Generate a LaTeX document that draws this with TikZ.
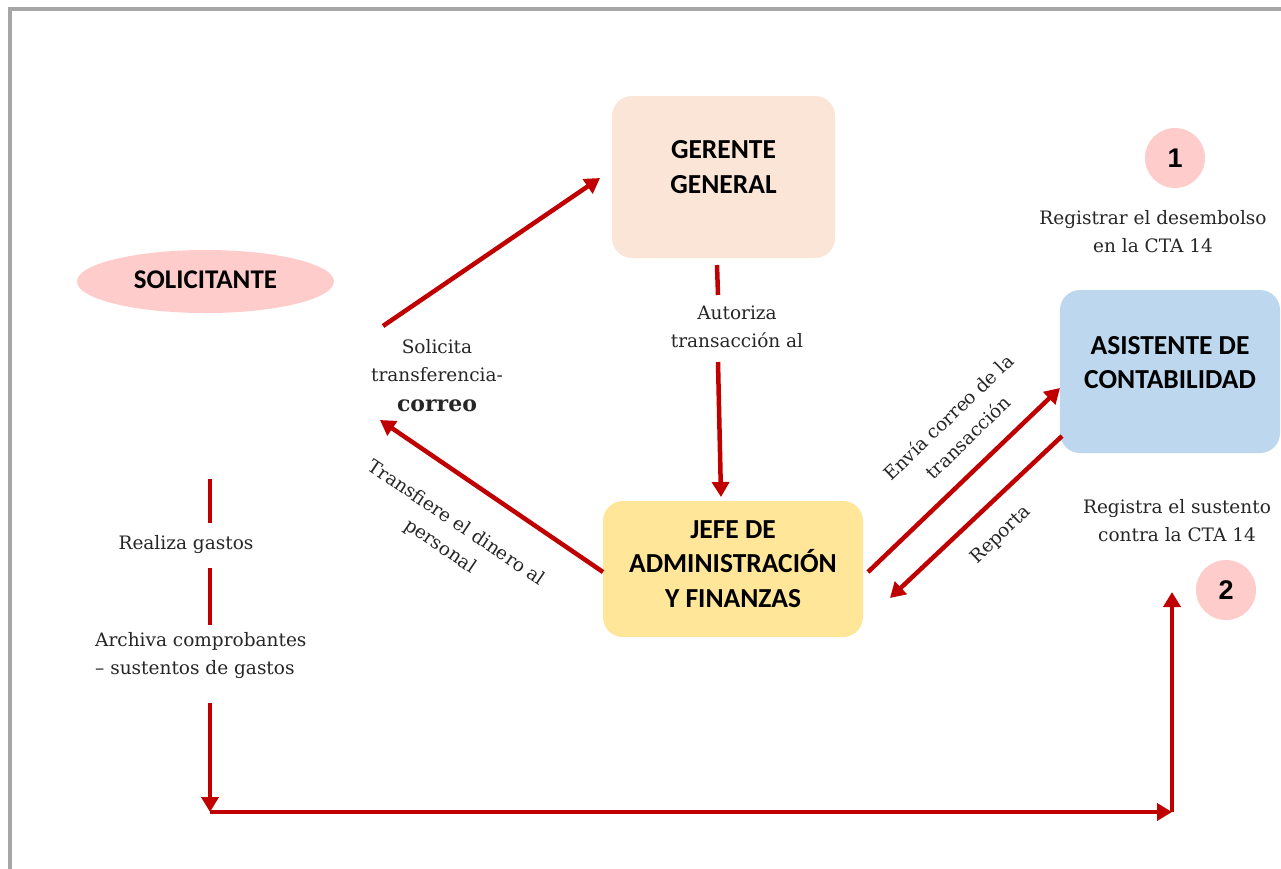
\documentclass[tikz,border=0pt]{standalone}
\usepackage{fontspec}
\setmainfont{DejaVu Serif}
\newfontfamily\boxfont{Carlito}
\newfontfamily\numfont{Liberation Sans}
\usetikzlibrary{arrows.meta,shapes.geometric}
\definecolor{arrred}{HTML}{C00000}
\definecolor{framegray}{HTML}{A6A6A6}
\definecolor{peach}{HTML}{FBE5D6}
\definecolor{gold}{HTML}{FFE699}
\definecolor{skyblue}{HTML}{BDD7EE}
\definecolor{rosy}{HTML}{FFCCCC}
\newcommand{\liftbox}[2]{\raisebox{#1}[\height][\depth]{\begin{tabular}{@{}c@{}}#2\end{tabular}}}
\tikzset{
  rolebox/.style={rounded corners=20pt, draw=none, inner sep=0pt, align=center,
    font=\boxfont\bfseries\fontsize{27.5}{34.5}\selectfont},
  numcirc/.style={circle, fill=rosy, draw=none, minimum size=60pt, inner sep=0pt,
    font=\numfont\bfseries\fontsize{27}{30}\selectfont},
  lbl/.style={align=center, inner sep=0pt, font=\fontsize{18.5}{28}\selectfont, text=black!85},
  arr/.style={draw=arrred, line width=4.5pt, -{Triangle[length=15pt,width=17pt]}},
  seg/.style={draw=arrred, line width=4.5pt},
}
\begin{document}
\begin{tikzpicture}[x=1pt,y=-1pt]
\useasboundingbox (0,0) rectangle (1281,868);
\clip (0,0) rectangle (1281,868);
\fill[white] (0,0) rectangle (1281,868);
\draw[framegray, line width=4pt] (9.5,8.5) rectangle (1300,900);

% main nodes
\node[rolebox, fill=peach, minimum width=223pt, minimum height=162pt] (ger) at (723.5,177) {\liftbox{8pt}{GERENTE\\GENERAL}};
\node[rolebox, fill=gold, minimum width=260pt, minimum height=136pt] (jefe) at (733,569) {\liftbox{3pt}{JEFE DE\\ADMINISTRACIÓN\\Y FINANZAS}};
\node[rolebox, fill=skyblue, minimum width=220pt, minimum height=163pt] (asis) at (1170,371.5) {\liftbox{7pt}{ASISTENTE DE\\CONTABILIDAD}};
\node[ellipse, fill=rosy, draw=none, minimum width=257pt, minimum height=63pt, inner sep=0pt,
  font=\boxfont\bfseries\fontsize{27}{30}\selectfont] (sol) at (205.5,281.5) {\raisebox{4pt}{SOLICITANTE}};
\node[numcirc] (n1) at (1175,158) {1};
\node[numcirc] (n2) at (1226,590) {2};

% labels
\node[lbl] (lsol) at (437,375.5) {Solicita\\transferencia-\\[2pt]{\bfseries\fontsize{22}{28}\selectfont correo}};
\node[lbl] (laut) at (737,327) {Autoriza\\transacción al};
\node[lbl, rotate=-34] (ltra) at (448,535) {Transfiere el dinero al\\personal};
\node[lbl, rotate=44] (lenv) at (958,427) {Envía correo de la\\transacción};
\node[lbl, rotate=44] (lrep) at (1001,535) {Reporta};
\node[lbl] (lreg1) at (1153,232) {Registrar el desembolso\\en la CTA 14};
\node[lbl] (lreg2) at (1177,521) {Registra el sustento\\contra la CTA 14};
\node[lbl] (lrea) at (186,545) {Realiza gastos};
\node[lbl, align=left, anchor=west] (larc) at (95,656) {Archiva comprobantes\\– sustentos de gastos};

% connector end points
\coordinate (s1) at (383,326);
\coordinate (s2) at (600,178);
\coordinate (g1) at (717,265);
\coordinate (g2) at (718,295);
\coordinate (g3) at (718,362);
\coordinate (g4) at (721,497);
\coordinate (t1) at (603,572);
\coordinate (t2) at (380,420);
\coordinate (e1) at (868,572);
\coordinate (e2) at (1060,388);
\coordinate (r1) at (1062,436);
\coordinate (r2) at (890,598);
\coordinate (v1) at (210,479);
\coordinate (v2) at (210,523);
\coordinate (v3) at (210,568);
\coordinate (v4) at (210,625);
\coordinate (v5) at (210,703);
\coordinate (v6) at (210,812);
\coordinate (h2) at (1172,812);
\coordinate (h3) at (1172,592);

% connectors
\draw[arr] (s1) -- (s2);
\draw[seg] (g1) -- (g2);
\draw[arr] (g3) -- (g4);
\draw[arr] (t1) -- (t2);
\draw[arr] (e1) -- (e2);
\draw[arr] (r1) -- (r2);
\draw[seg] (v1) -- (v2);
\draw[seg] (v3) -- (v4);
\draw[arr] (v5) -- (v6);
\draw[arr] (v6) -- (h2);
\draw[arr] (h2) -- (h3);
\end{tikzpicture}
\end{document}
